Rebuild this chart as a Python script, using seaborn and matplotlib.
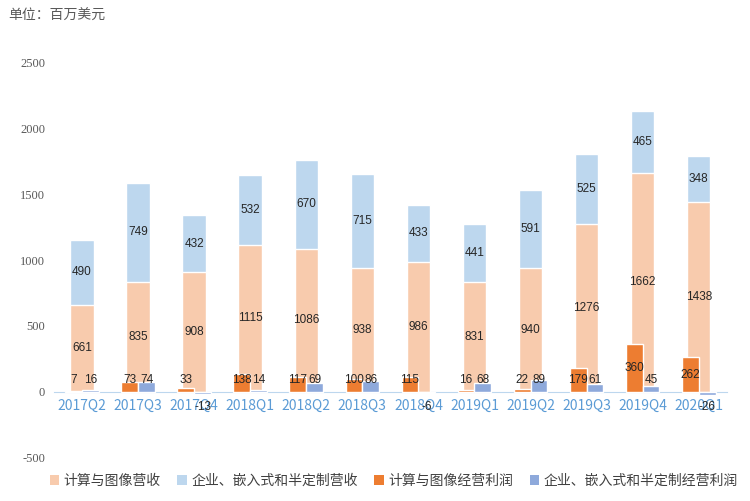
import matplotlib
matplotlib.use("Agg")
import matplotlib.pyplot as plt
from matplotlib.patches import Patch
import seaborn as sns
import pandas as pd
import numpy as np

quarters = ["2017Q2", "2017Q3", "2017Q4", "2018Q1", "2018Q2", "2018Q3",
            "2018Q4", "2019Q1", "2019Q2", "2019Q3", "2019Q4", "2020Q1"]
rev_cg = [661, 835, 908, 1115, 1086, 938, 986, 831, 940, 1276, 1662, 1438]
rev_eesc = [490, 749, 432, 532, 670, 715, 433, 441, 591, 525, 465, 348]
op_cg = [7, 73, 33, 138, 117, 100, 115, 16, 22, 179, 360, 262]
op_eesc = [16, 74, -13, 14, 69, 86, -6, 68, 89, 61, 45, -26]
series_names = ["计算与图像营收", "企业、嵌入式和半定制营收", "计算与图像经营利润", "企业、嵌入式和半定制经营利润"]
yticks = [-500, 0, 500, 1000, 1500, 2000, 2500]

c_rev_cg = "#F8CBAD"
c_rev_eesc = "#BDD7EE"
c_op_cg = "#ED7D31"
c_op_eesc = "#8EA9DB"

sns.set_style("white")
plt.rcParams['font.family'] = ['Noto Sans CJK SC', 'DejaVu Sans']

fig = plt.figure(figsize=(7.5, 5.01), dpi=100)
ax = fig.add_axes([0.072, 0.086, 0.897, 0.79])

total = [a + b for a, b in zip(rev_cg, rev_eesc)]
sns.barplot(x=quarters, y=total, color=c_rev_eesc, width=0.42, saturation=1,
            errorbar=None, ax=ax, order=quarters)
sns.barplot(x=quarters, y=rev_cg, color=c_rev_cg, width=0.42, saturation=1,
            errorbar=None, ax=ax, order=quarters)
n_rev = len(ax.patches)

df = pd.DataFrame({
    "q": quarters * 2,
    "v": op_cg + op_eesc,
    "seg": [series_names[2]] * len(quarters) + [series_names[3]] * len(quarters),
})
sns.barplot(data=df, x="q", y="v", hue="seg", palette=[c_op_cg, c_op_eesc],
            width=0.6, dodge=True, gap=0, saturation=1, errorbar=None,
            legend=False, ax=ax, order=quarters, hue_order=series_names[2:])
for p in ax.patches[:n_rev]:
    p.set_zorder(1)
for p in ax.patches[n_rev:]:
    p.set_zorder(3)

lab_kw = dict(ha="center", va="center", fontsize=8.5, color="#262626",
              family=["Liberation Sans", "DejaVu Sans"], zorder=5)
for i in range(len(quarters)):
    ax.text(i, rev_cg[i] / 2, str(rev_cg[i]), **lab_kw)
    ax.text(i, rev_cg[i] + rev_eesc[i] / 2, str(rev_eesc[i]), **lab_kw)
    for v, dx in ((op_cg[i], -0.15), (op_eesc[i], 0.15)):
        y = max(v / 2, 88) if v >= 0 else min(v / 2, -112)
        ax.text(i + dx, y, str(v), **lab_kw)

ax.set_ylim(-500, 2500)
ax.set_xlim(-0.5, len(quarters) - 0.5)
ax.set_yticks(yticks)
ax.set_yticklabels([str(t) for t in yticks], family=["Liberation Serif"], fontsize=9)
ax.set_xticks(range(len(quarters)))
ax.set_xticklabels(quarters, family=["Liberation Serif"], fontsize=9.5)
ax.set_xticks(np.arange(-0.5, len(quarters), 1), minor=True)
ax.tick_params(axis="x", which="major", length=0, pad=5, labelcolor="#5B9BD5")
ax.tick_params(axis="x", which="minor", length=4, color="#BDD7EE", width=0.8)
ax.tick_params(axis="y", length=0, pad=6.5, labelcolor="#595959")
ax.set_xlabel("")
ax.set_ylabel("")
for s in ["top", "right", "left"]:
    ax.spines[s].set_visible(False)
ax.spines["bottom"].set_position(("data", 0))
ax.spines["bottom"].set_color("#BDD7EE")
ax.spines["bottom"].set_linewidth(0.8)
ax.spines["bottom"].set_zorder(0.5)
ax.grid(False)

handles = [Patch(facecolor=c, edgecolor="none") for c in
           [c_rev_cg, c_rev_eesc, c_op_cg, c_op_eesc]]
fig.legend(handles, series_names, loc="center", bbox_to_anchor=(0.525, 0.04),
           ncol=4, frameon=False, fontsize=10, handlelength=0.7, handleheight=0.7,
           handletextpad=0.3, columnspacing=1.2, labelcolor="#404040")

fig.text(0.011, 0.969, "单位：百万美元", fontsize=10, color="#595959", va="center")

fig.savefig("out.png", dpi=100)
